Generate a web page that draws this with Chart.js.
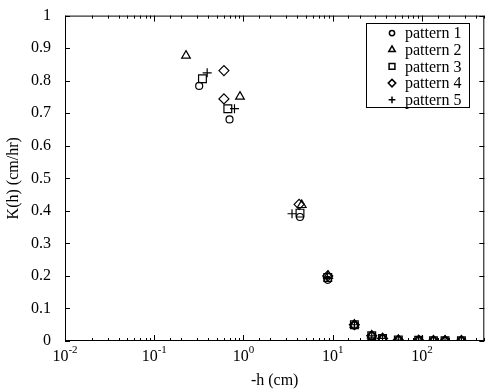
<!DOCTYPE html>
<html>
<head>
<meta charset="utf-8">
<script src="https://cdn.jsdelivr.net/npm/chart.js@4.4.0/dist/chart.umd.min.js"></script>
<style>
  html, body { margin: 0; padding: 0; background: #fff; }
</style>
</head>
<body>
<canvas id="kh-chart" width="491" height="392"></canvas>
<script>
// suction head (cm) and conductivity (cm/hr) for each pattern
let patternNames = ["pattern 1", "pattern 2", "pattern 3", "pattern 4", "pattern 5"];

let h1 = [0.319, 0.698, 4.3, 8.8, 17.5, 27.4, 36.2, 54.4, 91.9, 134.6, 181.5, 277];
let k1 = [0.784, 0.681, 0.381, 0.188, 0.048, 0.015, 0.008, 0.003, 0.002, 0.001, 0.001, 0.001];

let h2 = [0.227, 0.914, 4.5, 8.9, 17.5, 27.4, 36.2, 54.4, 91.9, 134.6, 181.5, 277];
let k2 = [0.877, 0.751, 0.418, 0.2, 0.05, 0.017, 0.008, 0.003, 0.002, 0.001, 0.001, 0.001];

let h3 = [0.347, 0.668, 4.3, 8.8, 17.5, 27.4, 36.2, 54.4, 91.9, 134.6, 181.5, 277];
let k3 = [0.806, 0.714, 0.393, 0.195, 0.05, 0.016, 0.008, 0.003, 0.002, 0.001, 0.001, 0.001];

let h4 = [0.604, 0.604, 4.2, 8.8, 17.5, 27.4, 36.2, 54.4, 91.9, 134.6, 181.5, 277];
let k4 = [0.831, 0.744, 0.42, 0.2, 0.05, 0.016, 0.008, 0.003, 0.002, 0.001, 0.001, 0.001];

let h5 = [0.392, 0.793, 3.5, 8.7, 17.5, 27.4, 36.2, 54.4, 91.9, 134.6, 181.5, 277];
let k5 = [0.824, 0.714, 0.391, 0.195, 0.05, 0.016, 0.008, 0.003, 0.002, 0.001, 0.001, 0.001];

let yTickValues = [0, 0.1, 0.2, 0.3, 0.4, 0.5, 0.6, 0.7, 0.8, 0.9, 1];
let xTickExponents = [-2, -1, 0, 1, 2];

let allH = [h1, h2, h3, h4, h5];
let allK = [k1, k2, k3, k4, k5];
let markerStyles = ["circle", "triangle", "rect", "rectRot", "cross"];
let markerSizes = [3.5, 5, 5.5, 5, 4.5];

let serif = "'Liberation Serif', 'DejaVu Serif', serif";

let datasets = patternNames.map((name, i) => ({
  label: name,
  data: allH[i].map((h, j) => ({ x: h, y: allK[i][j] })),
  pointStyle: markerStyles[i],
  pointRadius: markerSizes[i],
  pointBorderWidth: 1.2,
  borderColor: "#000",
  backgroundColor: "rgba(0,0,0,0)",
  showLine: false,
}));

// MATLAB-like frame: box, inward ticks, superscript decade labels, legend box
let framePlugin = {
  id: "frame",
  afterDraw(chart) {
    let ctx = chart.ctx;
    let area = chart.chartArea;
    let xs = chart.scales.x;
    let ys = chart.scales.y;
    ctx.save();
    ctx.strokeStyle = "#000";
    ctx.fillStyle = "#000";
    ctx.lineWidth = 1;

    ctx.strokeRect(area.left + 0.5, area.top + 0.5, area.right - area.left - 1, area.bottom - area.top - 1);

    ctx.beginPath();
    xs.ticks.forEach((t) => {
      let lg = Math.log10(t.value);
      let major = Math.abs(lg - Math.round(lg)) < 1e-9;
      let len = major ? 6 : 3;
      let px = Math.round(xs.getPixelForValue(t.value)) + 0.5;
      ctx.moveTo(px, area.bottom);
      ctx.lineTo(px, area.bottom - len);
      ctx.moveTo(px, area.top);
      ctx.lineTo(px, area.top + len);
    });
    yTickValues.forEach((v) => {
      let py = Math.round(ys.getPixelForValue(v)) + 0.5;
      ctx.moveTo(area.left, py);
      ctx.lineTo(area.left + 5, py);
      ctx.moveTo(area.right, py);
      ctx.lineTo(area.right - 5, py);
    });
    ctx.stroke();

    // decade labels 10^n
    ctx.textBaseline = "alphabetic";
    ctx.textAlign = "left";
    xTickExponents.forEach((e) => {
      let px = xs.getPixelForValue(Math.pow(10, e));
      ctx.font = "16px " + serif;
      let wBase = ctx.measureText("10").width;
      ctx.font = "11px " + serif;
      let wExp = ctx.measureText(String(e)).width;
      let start = px - (wBase + wExp) / 2;
      ctx.font = "16px " + serif;
      ctx.fillText("10", start, 361);
      ctx.font = "11px " + serif;
      ctx.fillText(String(e), start + wBase, 353);
    });

    // legend
    let boxL = 366, boxT = 23, boxW = 103, boxH = 84;
    ctx.fillStyle = "#fff";
    ctx.fillRect(boxL, boxT, boxW, boxH);
    ctx.strokeRect(boxL + 0.5, boxT + 0.5, boxW, boxH);
    ctx.font = "16px " + serif;
    ctx.textBaseline = "middle";
    chart.data.datasets.forEach((ds, i) => {
      let y = 33 + i * 16.7;
      if (Chart.helpers && Chart.helpers.drawPoint) {
        ctx.fillStyle = "rgba(0,0,0,0)";
        ctx.strokeStyle = "#000";
        ctx.lineWidth = 1.5;
        Chart.helpers.drawPoint(ctx, {
          pointStyle: ds.pointStyle,
          radius: ds.pointRadius * 0.75,
          rotation: 0,
          borderWidth: 1.5,
        }, 392, y);
      }
      ctx.fillStyle = "#000";
      ctx.fillText(ds.label, 405, y + 1);
    });
    ctx.restore();
  },
};

new Chart(document.getElementById("kh-chart"), {
  type: "scatter",
  data: { datasets: datasets },
  options: {
    responsive: false,
    animation: false,
    devicePixelRatio: 1,
    layout: { padding: { top: 8, right: 1, left: 0, bottom: 0 } },
    plugins: {
      legend: { display: false },
      tooltip: { enabled: false },
    },
    scales: {
      x: {
        type: "logarithmic",
        min: 0.01,
        max: 500,
        grid: { display: false },
        border: { display: false },
        ticks: { display: false },
        title: {
          display: true,
          text: "-h (cm)",
          color: "#000",
          font: { family: serif, size: 16 },
          padding: { top: 0, bottom: 2 },
        },
        afterFit(scale) { scale.height = 51; },
      },
      y: {
        min: 0,
        max: 1,
        grid: { display: false },
        border: { display: false },
        afterBuildTicks(scale) {
          scale.ticks = yTickValues.map((v) => ({ value: v }));
        },
        ticks: {
          color: "#000",
          padding: 6,
          font: { family: serif, size: 16 },
          callback: (v) => String(+Number(v).toFixed(1)),
        },
        title: {
          display: true,
          text: "K(h) (cm/hr)",
          color: "#000",
          font: { family: serif, size: 16 },
          padding: { top: 4, bottom: 0 },
        },
        afterFit(scale) { scale.width = 65; },
      },
    },
  },
  plugins: [framePlugin],
});
</script>
</body>
</html>
